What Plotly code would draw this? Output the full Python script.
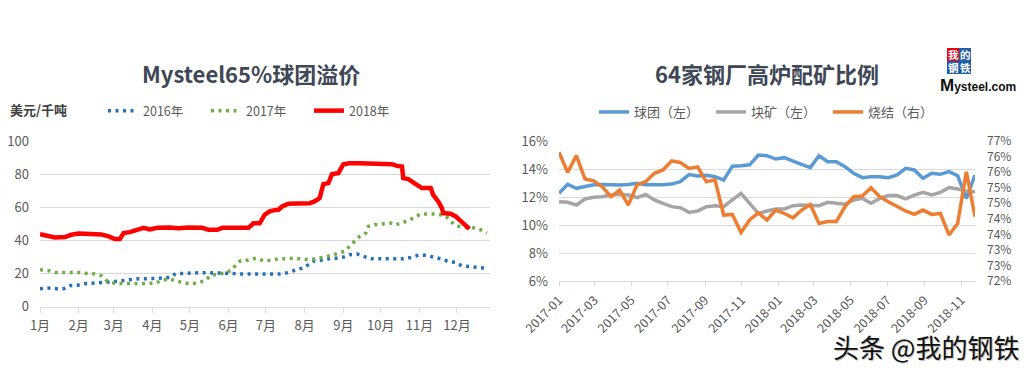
import pandas as pd
import numpy as np
import plotly.graph_objects as go

# ---------------- Left chart: Mysteel65%球团溢价 (美元/千吨) ----------------
month_labels_fmt = "%-m月"
day_2016 = [0, 6, 13, 19, 24, 30, 36, 43, 49, 55, 61, 68, 74, 79, 86, 92, 98, 104, 109, 115,
            122, 128, 134, 140, 147, 154, 160, 166, 172, 179, 186, 192, 198, 204, 210, 215,
            220, 226, 231, 237, 243, 248, 254, 260, 266, 272, 278, 285, 291, 297, 303, 309,
            315, 321, 327, 333, 338, 344, 350, 356]
val_2016 = [10.9, 11.3, 10.9, 10.9, 12.7, 12.9, 13.9, 14.1, 14.7, 14.9, 15.3, 15.9, 16.1, 16.9,
            16.9, 16.9, 17.3, 17.7, 20.1, 20.1, 20.5, 20.5, 20.5, 20.5, 20.3, 20.1, 19.7, 19.7,
            19.7, 19.7, 19.7, 19.7, 20.5, 21.7, 23.3, 25.3, 27.7, 28.1, 28.9, 29.3, 29.9, 31.4,
            31.8, 30.2, 28.9, 28.9, 28.9, 28.9, 28.9, 29.7, 31.0, 31.0, 30.2, 28.9, 27.3, 26.7,
            24.7, 24.3, 23.7, 23.3]

day_2017 = [0, 7, 12, 19, 24, 31, 37, 44, 49, 54, 60, 66, 72, 79, 86, 92, 97, 103, 108, 114,
            120, 126, 132, 137, 142, 148, 154, 158, 161, 167, 173, 179, 184,
            191, 197, 203, 209, 215, 221, 227, 234, 239, 244, 248, 252, 256, 261, 263, 268,
            275, 281, 285, 290, 295, 300, 305, 311, 318, 325, 332, 338, 346, 353, 358]
val_2017 = [22.3, 21.7, 20.7, 20.7, 20.7, 20.7, 20.1, 19.7, 18.7, 15.3, 14.1, 13.9, 13.9, 13.9,
            14.1, 14.1, 15.7, 16.9, 15.7, 14.7, 13.7, 14.3, 15.7, 18.9, 19.7, 20.3, 22.3, 26.3,
            27.9, 28.1, 29.3, 27.7, 28.1,
            28.9, 28.9, 29.3, 28.9, 28.5, 28.9, 29.7, 31.0, 32.4, 33.4, 36.4, 39.4, 42.4, 44.4,
            48.4, 49.4, 49.8, 50.5, 49.4, 50.5, 51.9, 54.1, 55.9, 55.9, 55.9, 54.9, 49.4, 47.8,
            47.8, 46.4, 44.4]

day_2018 = [0, 7, 12, 20, 25, 31, 36, 41, 49, 55, 60, 64, 67, 72, 78, 83, 88, 94, 103, 111,
            119, 130, 135, 142, 146, 156, 167, 171, 176, 180, 184, 188, 191, 194, 199, 206,
            216, 220, 224, 227, 231, 234, 239, 243, 248, 256, 264, 268, 282, 286, 290, 291,
            295, 301, 306, 313, 315, 319, 322, 323, 329, 333, 337, 342, 344]
val_2018 = [43.8, 42.4, 41.8, 42.0, 43.4, 44.2, 44.2, 43.8, 43.6, 42.4, 40.8, 40.8, 44.4, 45.0,
            46.2, 47.6, 46.6, 47.6, 47.8, 47.4, 47.8, 47.6, 46.4, 46.4, 47.6, 47.6, 47.6, 50.3,
            50.3, 55.5, 57.5, 58.3, 58.5, 60.5, 62.1, 62.3, 62.5, 63.5, 65.5, 74.0, 74.6, 80.0,
            80.6, 86.0, 86.6, 86.6, 86.4, 86.0, 86.0, 85.0, 84.6, 77.6, 77.0, 74.0, 71.6, 71.6,
            67.5, 63.5, 59.5, 56.5, 56.1, 54.5, 51.9, 48.4, 47.0]

# ---------------- Right chart: 64家钢厂高炉配矿比例 ----------------
n_right = 49
right_dates = pd.date_range("2017-01-01", "2018-11-24", periods=n_right)
pellet = [12.26, 12.90, 12.62, 12.75, 12.88, 12.90, 12.87, 12.86, 12.90, 12.98, 12.88, 12.86,
          12.88, 12.92, 13.10, 13.60, 13.50, 13.55, 13.45, 13.20, 14.20, 14.24, 14.30, 15.00,
          14.95, 14.71, 14.81, 14.57, 14.33, 14.10, 14.95, 14.52, 14.52, 14.17, 13.69, 13.38,
          13.45, 13.45, 13.38, 13.57, 14.05, 13.93, 13.33, 13.69, 13.62, 13.81, 13.52, 11.90,
          13.57]
lump = [11.67, 11.62, 11.43, 11.86, 11.98, 12.02, 12.14, 12.19, 12.14, 11.95, 12.19, 11.79,
        11.55, 11.31, 11.24, 10.90, 11.00, 11.31, 11.38, 11.31, 11.79, 12.26, 11.55, 10.83,
        11.00, 11.14, 11.14, 11.38, 11.43, 11.43, 11.38, 11.62, 11.55, 11.48, 11.79, 11.90,
        11.55, 11.90, 12.10, 12.10, 11.86, 12.14, 12.33, 12.14, 12.33, 12.67, 12.57, 12.43,
        12.38]
sinter = [76.39, 75.74, 76.28, 75.53, 75.47, 75.28, 74.96, 75.17, 74.69, 75.34, 75.44, 75.71,
          75.82, 76.11, 76.06, 75.87, 75.92, 75.44, 75.50, 74.37, 74.39, 73.81, 74.21, 74.44,
          74.21, 74.53, 74.42, 74.28, 74.53, 74.71, 74.10, 74.16, 74.16, 74.64, 74.96, 74.98,
          75.25, 74.96, 74.80, 74.64, 74.50, 74.39, 74.53, 74.39, 74.42, 73.73, 74.10, 75.76,
          74.32]
right_y2_ticklabels = ["72%", "73%", "73%", "74%", "74%", "75%", "75%", "76%", "76%", "77%"]
right_y2_range = [72.25, 76.75]

W, H = 1033, 370
base = pd.Timestamp("2018-01-01")


def to_dates(days):
    return [base + pd.Timedelta(days=d) for d in days]


def px_x(p):
    return p / W


def px_y(p):
    return 1 - p / H


TXT = "#595959"
GRID = "#D9D9D9"
FONT = "Noto Sans CJK SC"

fig = go.Figure()

fig.add_trace(go.Scatter(x=to_dates(day_2016), y=val_2016, mode="lines", name="2016年",
                         line=dict(color="#2270B8", width=3.5, dash="3px,4.5px"),
                         xaxis="x", yaxis="y", legend="legend"))
fig.add_trace(go.Scatter(x=to_dates(day_2017), y=val_2017, mode="lines", name="2017年",
                         line=dict(color="#70AD47", width=3.5, dash="3px,4.5px"),
                         xaxis="x", yaxis="y", legend="legend"))
fig.add_trace(go.Scatter(x=to_dates(day_2018), y=val_2018, mode="lines", name="2018年",
                         line=dict(color="#FF0000", width=4.5),
                         xaxis="x", yaxis="y", legend="legend"))

fig.add_trace(go.Scatter(x=right_dates, y=pellet, mode="lines", name="球团（左）",
                         line=dict(color="#5B9BD5", width=3.5),
                         xaxis="x2", yaxis="y2", legend="legend2"))
fig.add_trace(go.Scatter(x=right_dates, y=lump, mode="lines", name="块矿（左）",
                         line=dict(color="#A5A5A5", width=3.5),
                         xaxis="x2", yaxis="y2", legend="legend2"))
fig.add_trace(go.Scatter(x=right_dates, y=sinter, mode="lines", name="烧结（右）",
                         line=dict(color="#ED7D31", width=3.5),
                         xaxis="x2", yaxis="y3", legend="legend2"))

tickfont = dict(family=FONT, size=13, color=TXT)
rtickfont = dict(family=FONT, size=12, color=TXT)
legfont = dict(family=FONT, size=12.5, color=TXT)

fig.update_layout(
    width=W, height=H,
    margin=dict(l=0, r=0, t=0, b=0, pad=0, autoexpand=False),
    paper_bgcolor="white", plot_bgcolor="white",
    font=dict(family=FONT, color=TXT),
    xaxis=dict(domain=[px_x(40), px_x(490)], anchor="y", type="date", automargin=False,
               range=[base, base + pd.Timedelta(days=360.5)],
               tick0="2018-01-01", dtick="M1", tickformat=month_labels_fmt,
               showgrid=False, showline=True, linecolor=GRID, linewidth=1,
               ticks="outside", ticklen=5, tickcolor=GRID, tickfont=tickfont,
               ticklabelstandoff=2),
    yaxis=dict(domain=[px_y(306.7), px_y(141)], anchor="x", range=[0, 100], dtick=20,
               automargin=False,
               showgrid=True, gridcolor=GRID, zeroline=False, showline=False,
               tickfont=tickfont, ticklabelstandoff=10),
    xaxis2=dict(domain=[px_x(559), px_x(975)], anchor="y2", type="date", automargin=False,
                range=[right_dates[0], right_dates[-1]],
                tick0="2017-01-01", dtick="M2", tickformat="%Y-%m", tickangle=-45,
                showgrid=False, showline=True, linecolor=GRID, linewidth=1,
                ticks="outside", ticklen=4, tickcolor=GRID,
                tickfont=dict(family=FONT, size=12.5, color=TXT), ticklabelstandoff=2),
    yaxis2=dict(domain=[px_y(281), px_y(141)], anchor="x2", range=[6, 16], dtick=2,
                automargin=False,
                ticksuffix="%", showgrid=True, gridcolor=GRID, zeroline=False,
                showline=False, tickfont=tickfont, ticklabelstandoff=10),
    yaxis3=dict(overlaying="y2", side="right", anchor="x2", range=right_y2_range,
                automargin=False,
                tickvals=list(np.linspace(right_y2_range[0], right_y2_range[1],
                                          len(right_y2_ticklabels))),
                ticktext=right_y2_ticklabels, showgrid=False, zeroline=False,
                showline=False, tickfont=rtickfont, ticklabelstandoff=11),
    legend=dict(orientation="h", x=px_x(103), y=px_y(111), xanchor="left", yanchor="middle",
                font=legfont, bgcolor="rgba(0,0,0,0)", entrywidth=58, tracegroupgap=0),
    legend2=dict(orientation="h", x=px_x(594), y=px_y(112), xanchor="left", yanchor="middle",
                 font=dict(family=FONT, size=13, color=TXT), bgcolor="rgba(0,0,0,0)",
                 entrywidth=72),
    showlegend=True,
)


def note(text, x, y, size, color, family=FONT, xanchor="center", **kw):
    return dict(text=text, x=px_x(x), y=px_y(y), xref="paper", yref="paper",
                xanchor=xanchor, yanchor="middle", showarrow=False,
                font=dict(family=family, size=size, color=color, **kw))


annotations = [
    note("<b>Mysteel65%球团溢价</b>", 251, 73, 22, "#3E4756"),
    note("<b>64家钢厂高炉配矿比例</b>", 767, 73, 22, "#3E4756"),
    note("<b>美元/千吨</b>", 8, 109, 13, "#404040", xanchor="left"),
    note("头条 @我的钢铁", 1021, 346, 26, "#111111", xanchor="right",
         shadow="1px 1px 1px #bbbbbb"),
    note("<b><span style='font-size:17px'>M</span>ysteel.com</b>", 978, 85, 12, "#111111",
         family="Liberation Sans"),
]
# logo boxes
logo_cells = [("我", 947, 48, "#E60012"), ("的", 959, 48, "#1F5FA8"),
              ("钢", 947, 61, "#1F5FA8"), ("铁", 959, 61, "#1F5FA8")]
shapes = []
for ch, lx, ly, col in logo_cells:
    shapes.append(dict(type="rect", xref="paper", yref="paper", x0=px_x(lx), x1=px_x(lx + 12),
                       y0=px_y(ly + 13), y1=px_y(ly), fillcolor=col, line=dict(width=0)))
    annotations.append(note("<b>%s</b>" % ch, lx + 6, ly + 6.5, 10.5, "white"))

fig.update_layout(annotations=annotations, shapes=shapes)

fig.write_html("out.html", config={"displayModeBar": False},
               post_script="document.body.style.margin='0';"
                           "document.body.style.overflow='hidden';")
